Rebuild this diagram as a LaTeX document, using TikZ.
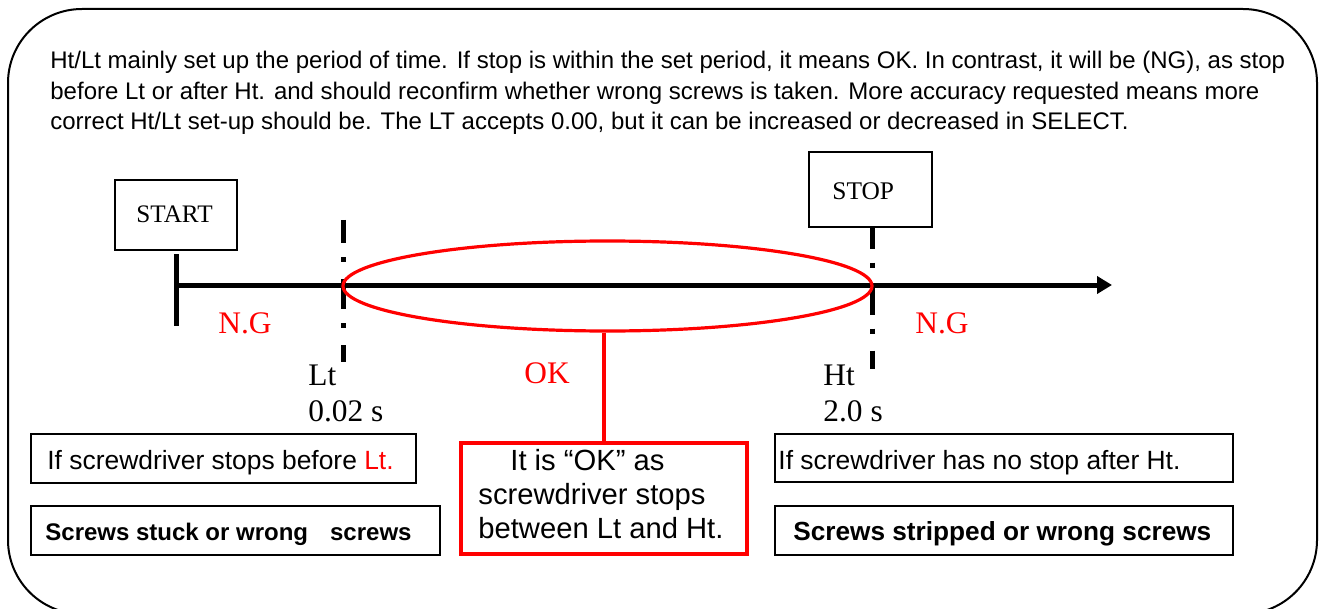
\documentclass[tikz,border=0pt]{standalone}
\usepackage{fontspec}
\setmainfont{Liberation Serif}
\newfontfamily\arial{Liberation Sans}
\usetikzlibrary{arrows.meta,shapes.geometric,calc}
\definecolor{okred}{RGB}{255,0,0}
\tikzset{
  blackbox/.style={draw=black, line width=1pt, minimum width=#1, inner sep=0pt},
  evbox/.style={draw=black, line width=1.2pt, inner sep=0pt},
  thick axis/.style={line width=2.5pt, line cap=butt},
  tickdash/.style={line width=2.5pt, dash pattern=on 15pt off 7pt on 2.5pt off 8.5pt},
  serif label/.style={anchor=base west, inner sep=0pt, font=\fontsize{15.7}{18}\selectfont},
  sans para/.style={anchor=base west, inner sep=0pt, font=\arial\fontsize{12}{14}\selectfont},
  sans box/.style={anchor=base west, inner sep=0pt, font=\arial\fontsize{13.2}{15}\selectfont},
  sans bold/.style={anchor=base west, inner sep=0pt, font=\arial\bfseries\fontsize{#1}{15}\selectfont},
}
\begin{document}
\begin{tikzpicture}[x=0.5pt,y=-0.5pt]
\useasboundingbox (0,0) rectangle (1326,609);
\clip (0,0) rectangle (1326,609);
% outer rounded frame
\draw[line width=1pt, rounded corners=37pt] (8,9) rectangle (1317,614);
% paragraph
\node[sans para] (p1) at (50,69) {Ht/Lt mainly set up the period of time. If stop is within the set period, it means OK. In contrast, it will be (NG), as stop};
\node[sans para] (p2) at (50,100) {before Lt or after Ht. and should reconfirm whether wrong screws is taken. More accuracy requested means more};
\node[sans para] (p3) at (50,130) {correct Ht/Lt set-up should be. The LT accepts 0.00, but it can be increased or decreased in SELECT.};
% START / STOP boxes
\node[evbox, minimum width=61pt, minimum height=35pt] (start) at (176,215) {};
\node[anchor=base west, inner sep=0pt, font=\fontsize{12.6}{14}\selectfont] (starttxt) at (136,222) {START};
\node[evbox, minimum width=61.5pt, minimum height=37.5pt] (stop) at (870.5,189.5) {};
\node[anchor=base west, inner sep=0pt, font=\fontsize{12.7}{14}\selectfont] (stoptxt) at (832,199) {STOP};
% axis and ticks
\coordinate (tick0) at (176,254);
\coordinate (tick1) at (176,326);
\coordinate (ax0) at (176,285);
\coordinate (ax1) at (1112,285);
\draw[thick axis] (tick0) -- (tick1);
\draw[thick axis, -{Triangle[length=7.5pt,width=8.5pt]}] (ax0) -- (ax1);
\coordinate (lt0) at (343,220);
\coordinate (lt1) at (343,362);
\draw[tickdash, dash phase=3.5pt] (lt0) -- (lt1);
\coordinate (ht0) at (872,227.5);
\coordinate (ht1) at (872,369);
\draw[tickdash, dash phase=4.5pt] (ht0) -- (ht1);
% OK ellipse
\node[ellipse, draw=okred, line width=1.6pt, minimum width=264.5pt, minimum height=45pt, inner sep=0pt] (okell) at (607.5,286) {};
% labels
\node[serif label, text=okred] (ngl) at (218,333) {N.G};
\node[serif label, text=okred] (ngr) at (915,333) {N.G};
\node[serif label, text=okred] (oklab) at (524,383) {OK};
\node[serif label] (ltlab) at (308,385) {Lt};
\node[serif label] (ltval) at (308,421) {0.02 s};
\node[serif label] (htlab) at (823,385) {Ht};
\node[serif label] (htval) at (823,421) {2.0 s};
% OK box
\node[draw=okred, line width=2pt, minimum width=143pt, minimum height=55.5pt, inner sep=0pt] (okbox) at (604,498.5) {};
\draw[okred, line width=1.6pt] (okbox.north |- okell.south) -- (okbox.north);
\node[anchor=base west, inner sep=0pt, font=\arial\fontsize{14.6}{17}\selectfont] (okt1) at (510,470) {It is “OK” as};
\node[anchor=base west, inner sep=0pt, font=\arial\fontsize{14.6}{17}\selectfont] (okt2) at (478,504) {screwdriver stops};
\node[anchor=base west, inner sep=0pt, font=\arial\fontsize{14.6}{17}\selectfont] (okt3) at (478,538) {between Lt and Ht.};
% left boxes
\node[blackbox=192.5pt, minimum height=24.5pt] (lb1) at (223.5,458.5) {};
\node[sans box] (lb1t) at (47,469) {If screwdriver stops before \textcolor{okred}{Lt.}};
\node[blackbox=204.5pt, minimum height=24.5pt] (lb2) at (235.5,530.5) {};
\node[sans bold=12] (lb2t) at (45,540) {Screws stuck or wrong\hspace{11pt}screws};
% right boxes
\node[blackbox=229pt, minimum height=24pt] (rb1) at (1004,458) {};
\node[sans box] (rb1t) at (778,469) {If screwdriver has no stop after Ht.};
\node[blackbox=229pt, minimum height=24.5pt] (rb2) at (1004,530.5) {};
\node[sans bold=13.1] (rb2t) at (793,540) {Screws stripped or wrong screws};
\end{tikzpicture}
\end{document}
